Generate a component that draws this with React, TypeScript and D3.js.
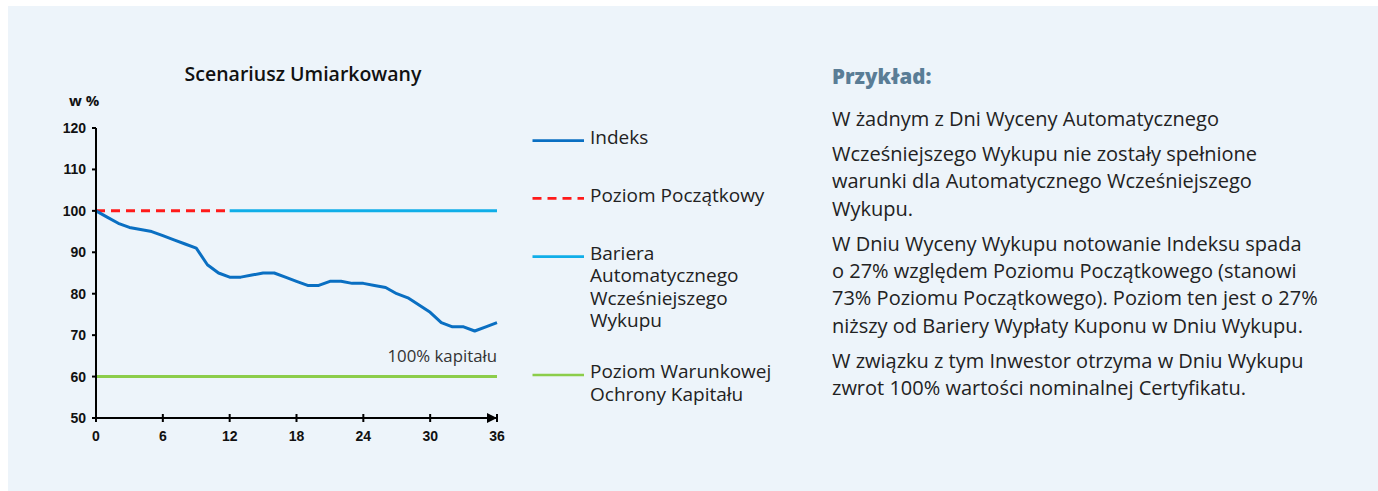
import React from "react";
import * as d3 from "d3";

const months = [0,1,2,3,4,5,6,7,8,9,10,11,12,13,14,15,16,17,18,19,20,21,22,23,24,25,26,27,28,29,30,31,32,33,34,35,36];
const indeks = [100,98.5,97,96,95.5,95,94,93,92,91,87,85,84,84,84.5,85,85,84,83,82,82,83,83,82.5,82.5,82,81.5,80,79,77.3,75.5,73,72,72,71,72,73];
const poziomPoczatkowy = { from: 0, to: 12, value: 100 };
const bariera = { from: 12, to: 36, value: 100 };
const ochrona = { from: 0, to: 36, value: 60 };
const yTicks = [50,60,70,80,90,100,110,120];
const xTicks = [0,6,12,18,24,30,36];
const legendItems = [
  { lines: ["Indeks"], color: "#0a6fc2", dash: null },
  { lines: ["Poziom Początkowy"], color: "#ff1a1a", dash: "9,6" },
  { lines: ["Bariera", "Automatycznego", "Wcześniejszego", "Wykupu"], color: "#10aee8", dash: null },
  { lines: ["Poziom Warunkowej", "Ochrony Kapitału"], color: "#8ccd4a", dash: null },
];
const paragraphs = [
  ["W żadnym z Dni Wyceny Automatycznego"],
  ["Wcześniejszego Wykupu nie zostały spełnione", "warunki dla Automatycznego Wcześniejszego", "Wykupu."],
  ["W Dniu Wyceny Wykupu notowanie Indeksu spada", "o 27% względem Poziomu Początkowego (stanowi", "73% Poziomu Początkowego). Poziom ten jest o 27%", "niższy od Bariery Wypłaty Kuponu w Dniu Wykupu."],
  ["W związku z tym Inwestor otrzyma w Dniu Wykupu", "zwrot 100% wartości nominalnej Certyfikatu."],
];

const W = 1378, H = 491;
const FONT = "'Open Sans', sans-serif";
const TICKFONT = "'Liberation Sans', Arial, sans-serif";

export default function App() {
  const x = d3.scaleLinear().domain([0, 36]).range([96, 497]);
  const y = d3.scaleLinear().domain([50, 120]).range([418, 128]);
  const line = d3.line<number>().x((_, i) => x(months[i])).y((d) => y(d));
  const legendY = [140.7, 198.3, 256.7, 375];

  let ty = 126;
  const textLines: { t: string; y: number }[] = [];
  paragraphs.forEach((p) => {
    p.forEach((t, li) => {
      if (li > 0) ty += 27.3;
      textLines.push({ t, y: ty });
    });
    ty += 35;
  });

  return (
    <svg width={W} height={H} style={{ position: "absolute", left: 0, top: 0 }}>
      <rect x={0} y={0} width={W} height={H} fill="#ffffff" />
      <rect x={8} y={6} width={W - 8} height={H - 6} fill="#edf4fa" />
      <text x={303} y={80.5} textAnchor="middle" fontFamily={FONT} fontWeight={600} fontSize={19.5} fill="#111">Scenariusz Umiarkowany</text>
      <text x={69} y={105.5} fontFamily={FONT} fontWeight={700} fontSize={15} fill="#111">w %</text>
      {/* series */}
      <line x1={x(ochrona.from)} x2={x(ochrona.to)} y1={y(ochrona.value)} y2={y(ochrona.value)} stroke="#8ccd4a" strokeWidth={3} />
      <line x1={x(bariera.from)} x2={x(bariera.to)} y1={y(bariera.value)} y2={y(bariera.value)} stroke="#10aee8" strokeWidth={3} />
      <line x1={x(poziomPoczatkowy.from)} x2={x(poziomPoczatkowy.to)} y1={y(poziomPoczatkowy.value)} y2={y(poziomPoczatkowy.value)} stroke="#ff1a1a" strokeWidth={3} strokeDasharray="9,6" />
      <path d={line(indeks) || ""} fill="none" stroke="#0a6fc2" strokeWidth={3} strokeLinejoin="round" />
      {/* axes */}
      <line x1={96} x2={96} y1={y(120)} y2={y(50)} stroke="#000" strokeWidth={2} />
      {yTicks.map((t) => (
        <g key={t}>
          <line x1={92} x2={96} y1={y(t)} y2={y(t)} stroke="#000" strokeWidth={2} />
          <text x={86} y={y(t) + 5} textAnchor="end" fontFamily={TICKFONT} fontWeight={700} fontSize={14} fill="#111">{t}</text>
        </g>
      ))}
      <line x1={96} x2={x(36)} y1={418} y2={418} stroke="#000" strokeWidth={2} />
      <path d={`M${x(36) - 10},${413} L${x(36)},418 L${x(36) - 10},423 Z`} fill="#000" />
      {xTicks.map((t) => (
        <g key={t}>
          <line x1={x(t)} x2={x(t)} y1={414} y2={422} stroke="#000" strokeWidth={2} />
          <text x={x(t)} y={441} textAnchor="middle" fontFamily={TICKFONT} fontWeight={700} fontSize={14} fill="#111">{t}</text>
        </g>
      ))}
      <text x={497} y={361.5} textAnchor="end" fontFamily={FONT} fontSize={16.8} fill="#333">100% kapitału</text>
      {/* legend */}
      {legendItems.map((it, i) => (
        <g key={i}>
          <line x1={532.5} x2={584} y1={legendY[i]} y2={legendY[i]} stroke={it.color} strokeWidth={2.7} strokeDasharray={it.dash || undefined} />
          {it.lines.map((l, j) => (
            <text key={j} x={590} y={legendY[i] + 3.3 + j * 22.3} fontFamily={FONT} fontSize={19} fill="#222">{l}</text>
          ))}
        </g>
      ))}
      {/* right text */}
      <text x={832} y={84} fontFamily={FONT} fontWeight={800} fontSize={20.5} fill="#5a7d96">Przykład:</text>
      {textLines.map((l, i) => (
        <text key={i} x={832} y={l.y} fontFamily={FONT} fontSize={20} fill="#222">{l.t}</text>
      ))}
    </svg>
  );
}
